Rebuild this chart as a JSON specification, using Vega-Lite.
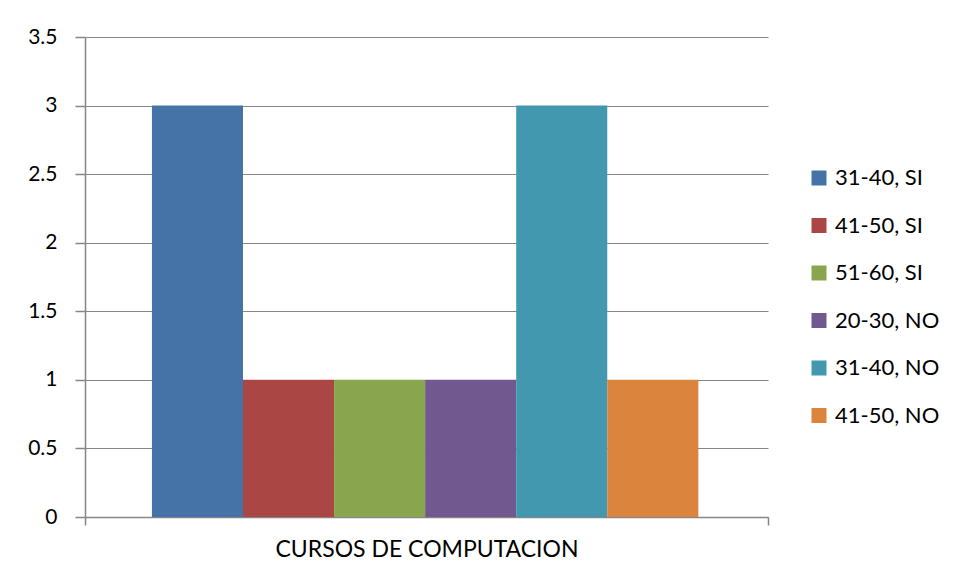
{
  "$schema": "https://vega.github.io/schema/vega-lite/v6.json",
  "width": 683,
  "height": 480,
  "autosize": {"type": "none"},
  "padding": {"left": 85, "top": 37, "right": 188, "bottom": 63},
  "background": "white",
  "data": {
    "values": [
      {"categoria": "CURSOS DE COMPUTACION", "serie": "31-40, SI", "valor": 3},
      {"categoria": "CURSOS DE COMPUTACION", "serie": "41-50, SI", "valor": 1},
      {"categoria": "CURSOS DE COMPUTACION", "serie": "51-60, SI", "valor": 1},
      {"categoria": "CURSOS DE COMPUTACION", "serie": "20-30, NO", "valor": 1},
      {"categoria": "CURSOS DE COMPUTACION", "serie": "31-40, NO", "valor": 3},
      {"categoria": "CURSOS DE COMPUTACION", "serie": "41-50, NO", "valor": 1}
    ]
  },
  "mark": {"type": "bar"},
  "encoding": {
    "x": {
      "field": "categoria",
      "type": "nominal",
      "scale": {"paddingInner": 0, "paddingOuter": 0},
      "axis": {
        "title": null,
        "labelAngle": 0,
        "labelLimit": 0,
        "tickBand": "extent",
        "tickSize": 8,
        "labelPadding": 13,
        "labelFontSize": 23,
        "labelColor": "#000000",
        "domainColor": "#868686",
        "tickColor": "#868686",
        "domainWidth": 1.5,
        "tickWidth": 1.5
      }
    },
    "xOffset": {
      "field": "serie",
      "type": "nominal",
      "sort": ["31-40, SI", "41-50, SI", "51-60, SI", "20-30, NO", "31-40, NO", "41-50, NO"],
      "scale": {"paddingInner": 0, "paddingOuter": 0.75, "align": 0.49}
    },
    "y": {
      "field": "valor",
      "type": "quantitative",
      "scale": {"domain": [0, 3.5], "nice": false},
      "axis": {
        "title": null,
        "values": [0, 0.5, 1, 1.5, 2, 2.5, 3, 3.5],
        "format": "~g",
        "tickSize": 10,
        "labelPadding": 18,
        "labelFontSize": 21,
        "labelColor": "#000000",
        "domainColor": "#868686",
        "tickColor": "#868686",
        "gridColor": "#868686",
        "domainWidth": 1.5,
        "tickWidth": 1.5,
        "gridWidth": 1.2
      }
    },
    "color": {
      "field": "serie",
      "type": "nominal",
      "scale": {
        "domain": ["31-40, SI", "41-50, SI", "51-60, SI", "20-30, NO", "31-40, NO", "41-50, NO"],
        "range": ["#4572A7", "#AA4643", "#89A54E", "#71588F", "#4198AF", "#DB843D"]
      },
      "legend": {
        "title": null,
        "orient": "none",
        "legendX": 723,
        "legendY": 130,
        "symbolType": "square",
        "symbolSize": 225,
        "symbolStrokeWidth": 0,
        "labelFontSize": 22,
        "labelColor": "#000000",
        "labelOffset": 5,
        "labelLimit": 0,
        "rowPadding": 25.5
      }
    }
  },
  "config": {
    "view": {"stroke": null},
    "font": "Lato",
    "axis": {"labelFont": "Lato"},
    "legend": {"labelFont": "Lato"}
  }
}
